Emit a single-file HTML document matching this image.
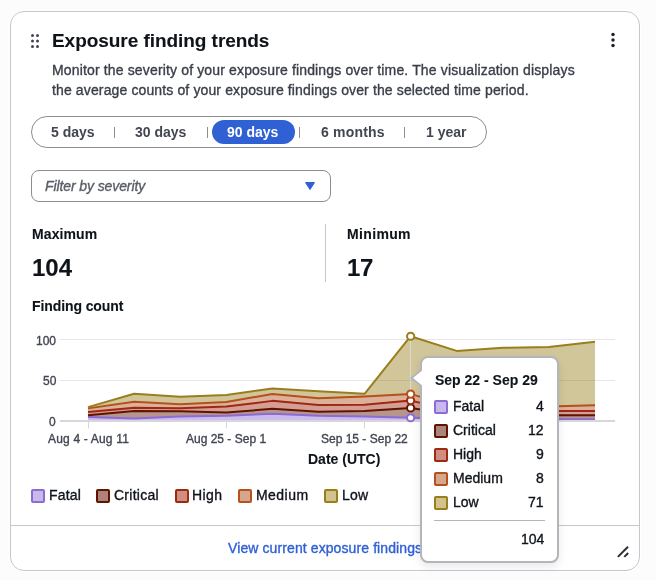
<!DOCTYPE html>
<html><head><meta charset="utf-8">
<style>
*{margin:0;padding:0;box-sizing:border-box}
html,body{width:656px;height:580px;overflow:hidden;background:#fcfcfc}
body{font-family:"Liberation Sans",sans-serif;color:#0f141a;position:relative}
.abs{position:absolute}
.t{position:absolute;white-space:nowrap;line-height:1;will-change:transform;-webkit-text-stroke:0.35px currentColor}
.b{-webkit-text-stroke:0.1px currentColor}
.card{position:absolute;left:10px;top:11px;width:630px;height:560px;border:1px solid #c6c6cd;border-radius:14px;background:#fff;box-shadow:0 0 0 1px #fff}
.b{font-weight:700}
.seg{position:absolute;left:31px;top:116px;width:456px;height:32px;border:1px solid #8c8c94;border-radius:16px}
.sep{position:absolute;top:127px;width:1px;height:11px;background:#8c8c94}
.pill{position:absolute;left:212px;top:120px;width:83px;height:24px;border-radius:12px;background:#2f60d4}
.segl{font-size:14px;font-weight:700;color:#424650;-webkit-text-stroke:0}
.sel{position:absolute;left:31px;top:170px;width:300px;height:32px;border:1px solid #8c8c94;border-radius:8px}
.sw{position:absolute;width:14px;height:14px;border:2px solid;border-radius:2px}
.tip{position:absolute;left:420px;top:356px;width:139px;height:207px;border:2px solid #b4b4bb;border-radius:8px;background:#fff;box-shadow:0 4px 10px rgba(0,0,0,0.09)}
</style></head><body>
<div class="card"></div>
<!-- drag handle -->
<svg class="abs" style="left:0;top:0" width="60" height="60">
  <g fill="#424650">
    <circle cx="32.5" cy="35.5" r="1.5"/><circle cx="37.5" cy="35.5" r="1.5"/>
    <circle cx="32.5" cy="41" r="1.5"/><circle cx="37.5" cy="41" r="1.5"/>
    <circle cx="32.5" cy="46.5" r="1.5"/><circle cx="37.5" cy="46.5" r="1.5"/>
  </g>
</svg>
<div class="t b" style="left:52px;top:30.5px;font-size:19px;letter-spacing:-0.05px">Exposure finding trends</div>
<!-- kebab -->
<svg class="abs" style="left:600px;top:25px" width="30" height="30">
  <g fill="#1f222a"><circle cx="13" cy="9.5" r="1.75"/><circle cx="13" cy="15" r="1.75"/><circle cx="13" cy="20.5" r="1.75"/></g>
</svg>
<div class="t" style="left:51.5px;top:63px;font-size:14px;letter-spacing:0.15px;color:#3a3e48">Monitor the severity of your exposure findings over time. The visualization displays</div>
<div class="t" style="left:51.5px;top:83px;font-size:14px;letter-spacing:0.13px;color:#3a3e48">the average counts of your exposure findings over the selected time period.</div>

<div class="seg"></div>
<div class="pill"></div>
<div class="sep" style="left:114px"></div>
<div class="sep" style="left:207px"></div>
<div class="sep" style="left:299px"></div>
<div class="sep" style="left:404px"></div>
<div class="t segl" style="left:51px;top:125px">5 days</div>
<div class="t segl" style="left:135px;top:125px">30 days</div>
<div class="t segl" style="left:227px;top:125px;color:#fff">90 days</div>
<div class="t segl" style="left:320.5px;top:125px;letter-spacing:0.2px">6 months</div>
<div class="t segl" style="left:425.5px;top:125px">1 year</div>

<div class="sel"></div>
<div class="t" style="left:44.5px;top:179px;font-size:14px;font-style:italic;color:#5a5d66;letter-spacing:-0.1px">Filter by severity</div>
<svg class="abs" style="left:300px;top:176px" width="20" height="20"><path d="M5.5 6.5 L14.5 6.5 L10 13.5 Z" fill="#2f60d4" stroke="#2f60d4" stroke-width="1" stroke-linejoin="round"/></svg>

<div class="t b" style="left:32px;top:226.5px;font-size:14px;letter-spacing:0.1px">Maximum</div>
<div class="t b" style="left:32px;top:255.5px;font-size:24px;letter-spacing:0px">104</div>
<div class="abs" style="left:325px;top:224px;width:1px;height:58px;background:#c6c6cd"></div>
<div class="t b" style="left:346.5px;top:226.5px;font-size:14px;letter-spacing:0.35px">Minimum</div>
<div class="t b" style="left:346.5px;top:255.5px;font-size:24px;letter-spacing:-0.3px">17</div>

<div class="t b" style="left:32px;top:298.5px;font-size:14px;letter-spacing:-0.1px">Finding count</div>


<svg class="abs" style="left:0;top:0" width="656" height="580" viewBox="0 0 656 580">
  <g stroke="#e6e6ea" stroke-width="1">
    <line x1="60" y1="339.5" x2="615" y2="339.5"/>
    <line x1="60" y1="380.5" x2="615" y2="380.5"/>
  </g>
  <path d="M88.00,416.93 L134.09,418.56 L180.18,416.44 L226.27,415.70 L272.36,413.67 L318.45,415.70 L364.54,416.44 L410.63,417.74 L456.72,418.72 L502.81,418.96 L548.90,419.13 L594.99,419.13 L594.99,421.00 L548.90,421.00 L502.81,421.00 L456.72,421.00 L410.63,421.00 L364.54,421.00 L318.45,421.00 L272.36,421.00 L226.27,421.00 L180.18,421.00 L134.09,421.00 L88.00,421.00 Z" fill="#8b6bd6" fill-opacity="0.45"/>
  <path d="M88.00,415.30 L134.09,410.89 L180.18,411.22 L226.27,412.61 L272.36,408.77 L318.45,411.63 L364.54,410.98 L410.63,407.96 L456.72,414.89 L502.81,415.05 L548.90,415.13 L594.99,415.13 L594.99,419.13 L548.90,419.13 L502.81,418.96 L456.72,418.72 L410.63,417.74 L364.54,416.44 L318.45,415.70 L272.36,413.67 L226.27,415.70 L180.18,416.44 L134.09,418.56 L88.00,416.93 Z" fill="#601400" fill-opacity="0.45"/>
  <path d="M88.00,412.04 L134.09,407.80 L180.18,408.37 L226.27,406.57 L272.36,400.87 L318.45,405.03 L364.54,404.78 L410.63,400.62 L456.72,410.81 L502.81,410.98 L548.90,410.98 L594.99,410.98 L594.99,415.13 L548.90,415.13 L502.81,415.05 L456.72,414.89 L410.63,407.96 L364.54,410.98 L318.45,411.63 L272.36,408.77 L226.27,412.61 L180.18,411.22 L134.09,410.89 L88.00,415.30 Z" fill="#a02812" fill-opacity="0.45"/>
  <path d="M88.00,408.37 L134.09,401.68 L180.18,404.29 L226.27,401.93 L272.36,394.02 L318.45,398.18 L364.54,396.39 L410.63,394.11 L456.72,406.74 L502.81,406.74 L548.90,406.49 L594.99,405.19 L594.99,410.98 L548.90,410.98 L502.81,410.98 L456.72,410.81 L410.63,400.62 L364.54,404.78 L318.45,405.03 L272.36,400.87 L226.27,406.57 L180.18,408.37 L134.09,407.80 L88.00,412.04 Z" fill="#b4511c" fill-opacity="0.45"/>
  <path d="M88.00,407.14 L134.09,393.78 L180.18,396.71 L226.27,394.92 L272.36,388.48 L318.45,391.25 L364.54,393.78 L410.63,336.24 L456.72,350.91 L502.81,347.81 L548.90,347.00 L594.99,341.70 L594.99,405.19 L548.90,406.49 L502.81,406.74 L456.72,406.74 L410.63,394.11 L364.54,396.39 L318.45,398.18 L272.36,394.02 L226.27,401.93 L180.18,404.29 L134.09,401.68 L88.00,408.37 Z" fill="#9a7e1e" fill-opacity="0.45"/>
  <path d="M88.00,416.93 L134.09,418.56 L180.18,416.44 L226.27,415.70 L272.36,413.67 L318.45,415.70 L364.54,416.44 L410.63,417.74 L456.72,418.72 L502.81,418.96 L548.90,419.13 L594.99,419.13" fill="none" stroke="#8b6bd6" stroke-width="2" stroke-linejoin="round"/>
  <path d="M88.00,415.30 L134.09,410.89 L180.18,411.22 L226.27,412.61 L272.36,408.77 L318.45,411.63 L364.54,410.98 L410.63,407.96 L456.72,414.89 L502.81,415.05 L548.90,415.13 L594.99,415.13" fill="none" stroke="#601400" stroke-width="2" stroke-linejoin="round"/>
  <path d="M88.00,412.04 L134.09,407.80 L180.18,408.37 L226.27,406.57 L272.36,400.87 L318.45,405.03 L364.54,404.78 L410.63,400.62 L456.72,410.81 L502.81,410.98 L548.90,410.98 L594.99,410.98" fill="none" stroke="#a02812" stroke-width="2" stroke-linejoin="round"/>
  <path d="M88.00,408.37 L134.09,401.68 L180.18,404.29 L226.27,401.93 L272.36,394.02 L318.45,398.18 L364.54,396.39 L410.63,394.11 L456.72,406.74 L502.81,406.74 L548.90,406.49 L594.99,405.19" fill="none" stroke="#b4511c" stroke-width="2" stroke-linejoin="round"/>
  <path d="M88.00,407.14 L134.09,393.78 L180.18,396.71 L226.27,394.92 L272.36,388.48 L318.45,391.25 L364.54,393.78 L410.63,336.24 L456.72,350.91 L502.81,347.81 L548.90,347.00 L594.99,341.70" fill="none" stroke="#9a7e1e" stroke-width="2" stroke-linejoin="round"/>
  <line x1="60" y1="421" x2="615" y2="421" stroke="#d6d6dc" stroke-width="2"/>
  <g stroke="#d6d6dc" stroke-width="1">
    <line x1="88.5" y1="422" x2="88.5" y2="428.5"/>
    <line x1="226.5" y1="422" x2="226.5" y2="428.5"/>
    <line x1="364.5" y1="422" x2="364.5" y2="428.5"/>
  </g>
  <line x1="410.6" y1="338" x2="410.6" y2="420" stroke="#dcdce0" stroke-width="1" opacity="0.9"/>
  <circle cx="410.63" cy="417.74" r="3.6" fill="#fff" stroke="#8b6bd6" stroke-width="2"/>
  <circle cx="410.63" cy="407.96" r="3.6" fill="#fff" stroke="#601400" stroke-width="2"/>
  <circle cx="410.63" cy="400.62" r="3.6" fill="#fff" stroke="#a02812" stroke-width="2"/>
  <circle cx="410.63" cy="394.11" r="3.6" fill="#fff" stroke="#b4511c" stroke-width="2"/>
  <circle cx="410.63" cy="336.24" r="3.6" fill="#fff" stroke="#9a7e1e" stroke-width="2"/>
</svg>


<div class="t" style="right:600px;top:334.5px;font-size:12px;color:#424650">100</div>
<div class="t" style="right:600px;top:375px;font-size:12px;color:#424650">50</div>
<div class="t" style="right:600px;top:416px;font-size:12px;color:#424650">0</div>
<div class="t" style="left:47.5px;top:433px;font-size:12px;letter-spacing:0.18px;color:#424650">Aug 4 - Aug 11</div>
<div class="t" style="left:186px;top:433px;font-size:12px;color:#424650">Aug 25 - Sep 1</div>
<div class="t" style="left:321px;top:433px;font-size:12px;color:#424650">Sep 15 - Sep 22</div>
<div class="t b" style="left:307.5px;top:451.5px;font-size:14px;letter-spacing:0px">Date (UTC)</div>

<div class="sw" style="left:31px;top:489px;border-color:#8b6bd6;background:#c8b9ea"></div>
<div class="t" style="left:49px;top:487.5px;font-size:14px;letter-spacing:0.2px">Fatal</div>
<div class="sw" style="left:96px;top:489px;border-color:#601400;background:#ab8579"></div>
<div class="t" style="left:114px;top:487.5px;font-size:14px;letter-spacing:0.25px">Critical</div>
<div class="sw" style="left:174.5px;top:489px;border-color:#a02812;background:#cf8f80"></div>
<div class="t" style="left:191.5px;top:487.5px;font-size:14px;letter-spacing:0.4px">High</div>
<div class="sw" style="left:238px;top:489px;border-color:#b4511c;background:#d6a88b"></div>
<div class="t" style="left:255.5px;top:487.5px;font-size:14px;letter-spacing:0.45px">Medium</div>
<div class="sw" style="left:324px;top:489px;border-color:#9a7e1e;background:#d1c38b"></div>
<div class="t" style="left:341.5px;top:487.5px;font-size:14px;letter-spacing:0.2px">Low</div>

<div class="abs" style="left:11px;top:525px;width:628px;height:1px;background:#c6c6cd"></div>
<div class="t" style="left:227.5px;top:541px;font-size:14px;color:#2f60d4;letter-spacing:0.1px">View current exposure findings</div>
<svg class="abs" style="left:610px;top:540px" width="24" height="24">
  <g stroke="#2a2d35" stroke-width="2" stroke-linecap="butt">
    <line x1="8.6" y1="16.2" x2="17.3" y2="7.5" stroke-linecap="square"/>
    <line x1="15" y1="16.2" x2="17.5" y2="13.7" stroke-linecap="square"/>
  </g>
</svg>

<!-- tooltip -->
<div class="tip"></div>
<svg class="abs" style="left:405px;top:360px" width="20" height="36">
  <path d="M17.5 9 L6.5 18 L17.5 27" fill="#fff" stroke="#b4b4bb" stroke-width="2" stroke-linejoin="miter"/>
  <rect x="17" y="8" width="3" height="20" fill="#fff"/>
</svg>
<div class="t b" style="left:434.5px;top:372.5px;font-size:14px">Sep 22 - Sep 29</div>
<div class="sw" style="left:434px;top:400px;border-color:#8b6bd6;background:#c8b9ea"></div>
<div class="t" style="left:452.5px;top:398.5px;font-size:14px">Fatal</div>
<div class="t" style="right:112px;top:398.5px;font-size:14px">4</div>
<div class="sw" style="left:434px;top:424px;border-color:#601400;background:#ab8579"></div>
<div class="t" style="left:452.5px;top:422.5px;font-size:14px">Critical</div>
<div class="t" style="right:112px;top:422.5px;font-size:14px">12</div>
<div class="sw" style="left:434px;top:448px;border-color:#a02812;background:#cf8f80"></div>
<div class="t" style="left:452.5px;top:446.5px;font-size:14px">High</div>
<div class="t" style="right:112px;top:446.5px;font-size:14px">9</div>
<div class="sw" style="left:434px;top:472px;border-color:#b4511c;background:#d6a88b"></div>
<div class="t" style="left:452.5px;top:470.5px;font-size:14px">Medium</div>
<div class="t" style="right:112px;top:470.5px;font-size:14px">8</div>
<div class="sw" style="left:434px;top:496px;border-color:#9a7e1e;background:#d1c38b"></div>
<div class="t" style="left:452.5px;top:494.5px;font-size:14px">Low</div>
<div class="t" style="right:112px;top:494.5px;font-size:14px">71</div>
<div class="abs" style="left:434px;top:520px;width:111px;height:1px;background:#b4b4bb"></div>
<div class="t" style="right:112px;top:532px;font-size:14px">104</div>
</body></html>
